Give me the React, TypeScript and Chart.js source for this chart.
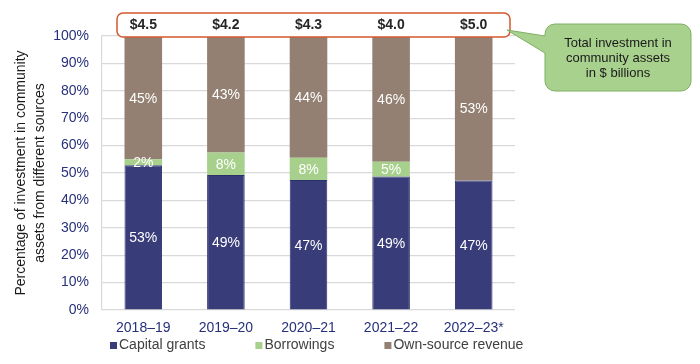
import React, { useEffect, useRef } from "react";
import { Chart, registerables } from "chart.js";

Chart.register(...registerables);

const categories = ["2018–19", "2019–20", "2020–21", "2021–22", "2022–23*"];
const capitalGrants = [52.8, 49.3, 47.4, 48.7, 47.3];
const borrowings = [2.2, 8.2, 8.2, 5.4, 0];
const ownSource = [45.0, 42.5, 44.4, 45.9, 52.7];
const totals = ["$4.5", "$4.2", "$4.3", "$4.0", "$5.0"];
const seriesNames = ["Capital grants", "Borrowings", "Own-source revenue"];
const seriesColors = ["#383c78", "#a8d08d", "#938072"];
const calloutLines = ["Total investment in", "community assets", "in $ billions"];
const yTitleLines = ["Percentage of investment in community", "assets from different sources"];

const FONT = "'Liberation Sans', Arial, sans-serif";
const NAVY = "#27307a";

function roundRectPath(ctx: CanvasRenderingContext2D, x: number, y: number, w: number, h: number, r: number) {
  ctx.beginPath();
  ctx.moveTo(x + r, y);
  ctx.lineTo(x + w - r, y);
  ctx.arcTo(x + w, y, x + w, y + r, r);
  ctx.lineTo(x + w, y + h - r);
  ctx.arcTo(x + w, y + h, x + w - r, y + h, r);
  ctx.lineTo(x + r, y + h);
  ctx.arcTo(x, y + h, x, y + h - r, r);
  ctx.lineTo(x, y + r);
  ctx.arcTo(x, y, x + r, y, r);
  ctx.closePath();
}

const overlayPlugin = {
  id: "overlay",
  afterDatasetsDraw(chart: any) {
    const ctx: CanvasRenderingContext2D = chart.ctx;
    ctx.save();
    ctx.fillStyle = "#ffffff";
    ctx.font = `14px ${FONT}`;
    ctx.textAlign = "center";
    ctx.textBaseline = "middle";
    chart.data.datasets.forEach((ds: any, di: number) => {
      const meta = chart.getDatasetMeta(di);
      meta.data.forEach((el: any, i: number) => {
        const v = ds.data[i];
        if (!v) return;
        const p = el.getProps(["x", "y", "base"], true);
        ctx.fillText(Math.round(v) + "%", p.x, (p.y + p.base) / 2 + 1);
      });
    });
    ctx.restore();
  },
  afterDraw(chart: any) {
    const ctx: CanvasRenderingContext2D = chart.ctx;
    const area = chart.chartArea;
    const xScale = chart.scales.x;
    ctx.save();

    // totals box
    const bx = area.left + 15;
    const by = area.top - 23;
    const bw = area.right - 5 - bx;
    const bh = 24;
    roundRectPath(ctx, bx, by, bw, bh, 6);
    ctx.fillStyle = "#ffffff";
    ctx.fill();
    ctx.strokeStyle = "#d4582e";
    ctx.lineWidth = 1.5;
    ctx.stroke();

    ctx.fillStyle = "#262626";
    ctx.font = `bold 14px ${FONT}`;
    ctx.textAlign = "center";
    ctx.textBaseline = "middle";
    totals.forEach((t, i) => {
      ctx.fillText(t, xScale.getPixelForValue(i), area.top - 11);
    });

    // callout
    const cx = area.right + 30;
    const cy = area.top - 12;
    const cw = 146;
    const ch = 67;
    const r = 10;
    const tipX = area.right - 8;
    const tipY = area.top - 6;
    ctx.beginPath();
    ctx.moveTo(cx + r, cy);
    ctx.lineTo(cx + cw - r, cy);
    ctx.arcTo(cx + cw, cy, cx + cw, cy + r, r);
    ctx.lineTo(cx + cw, cy + ch - r);
    ctx.arcTo(cx + cw, cy + ch, cx + cw - r, cy + ch, r);
    ctx.lineTo(cx + r, cy + ch);
    ctx.arcTo(cx, cy + ch, cx, cy + ch - r, r);
    ctx.lineTo(cx, cy + 29);
    ctx.lineTo(tipX, tipY);
    ctx.lineTo(cx, cy + 12);
    ctx.lineTo(cx, cy + r);
    ctx.arcTo(cx, cy, cx + r, cy, r);
    ctx.closePath();
    ctx.fillStyle = "#a9d18e";
    ctx.fill();
    ctx.strokeStyle = "#7fae62";
    ctx.lineWidth = 1;
    ctx.stroke();

    ctx.fillStyle = "#1a1a1a";
    ctx.font = `13px ${FONT}`;
    calloutLines.forEach((line, i) => {
      ctx.fillText(line, cx + cw / 2, cy + 19 + i * 15);
    });

    // legend
    ctx.font = `14px ${FONT}`;
    ctx.textAlign = "left";
    let lx = area.left + 8;
    const ly = 345.5;
    seriesNames.forEach((name, i) => {
      ctx.fillStyle = seriesColors[i];
      ctx.fillRect(lx, ly - 3.5, 7, 7);
      ctx.fillStyle = "#404040";
      ctx.fillText(name, lx + 9, ly);
      lx += 9 + ctx.measureText(name).width + 50;
    });

    ctx.restore();
  },
};

export default function App() {
  const canvasRef = useRef<HTMLCanvasElement | null>(null);

  useEffect(() => {
    document.body.style.margin = "0";
    const canvas = canvasRef.current;
    if (!canvas) return;
    const chart = new Chart(canvas, {
      type: "bar",
      data: {
        labels: categories,
        datasets: [
          {
            label: seriesNames[0],
            data: capitalGrants,
            backgroundColor: seriesColors[0],
            borderColor: "#2b306c",
            borderWidth: 1,
          },
          {
            label: seriesNames[1],
            data: borrowings,
            backgroundColor: seriesColors[1],
            borderWidth: 0,
          },
          {
            label: seriesNames[2],
            data: ownSource,
            backgroundColor: seriesColors[2],
            borderWidth: 0,
          },
        ],
      },
      options: {
        responsive: false,
        animation: false,
        layout: { padding: { top: 36, right: 185, bottom: 0, left: 0 } },
        datasets: {
          bar: { categoryPercentage: 1, barPercentage: 0.455 },
        },
        plugins: {
          legend: { display: false },
          tooltip: { enabled: false },
        },
        scales: {
          x: {
            stacked: true,
            grid: { display: false, drawTicks: false },
            border: { display: false },
            ticks: {
              color: NAVY,
              font: { family: FONT, size: 14 },
              padding: 10,
            },
            afterFit: (scale: any) => {
              scale.height = 54;
            },
          },
          y: {
            stacked: true,
            min: 0,
            max: 100,
            grid: { color: "#d9d9d9", drawTicks: false, lineWidth: 1.2 },
            border: { display: true, color: "#d9d9d9", width: 1.2 },
            ticks: {
              stepSize: 10,
              color: NAVY,
              font: { family: FONT, size: 14 },
              padding: 13,
              callback: (v: any) => v + "%",
            },
            title: {
              display: true,
              text: yTitleLines,
              color: "#1a1a1a",
              font: { family: FONT, size: 14, lineHeight: 1.4 },
              padding: { top: 11, bottom: 0 },
            },
            afterFit: (scale: any) => {
              scale.width = 102;
            },
          },
        },
      },
      plugins: [overlayPlugin],
    });
    return () => chart.destroy();
  }, []);

  return (
    <div style={{ width: 700, height: 364 }}>
      <canvas ref={canvasRef} width={700} height={364} />
    </div>
  );
}
